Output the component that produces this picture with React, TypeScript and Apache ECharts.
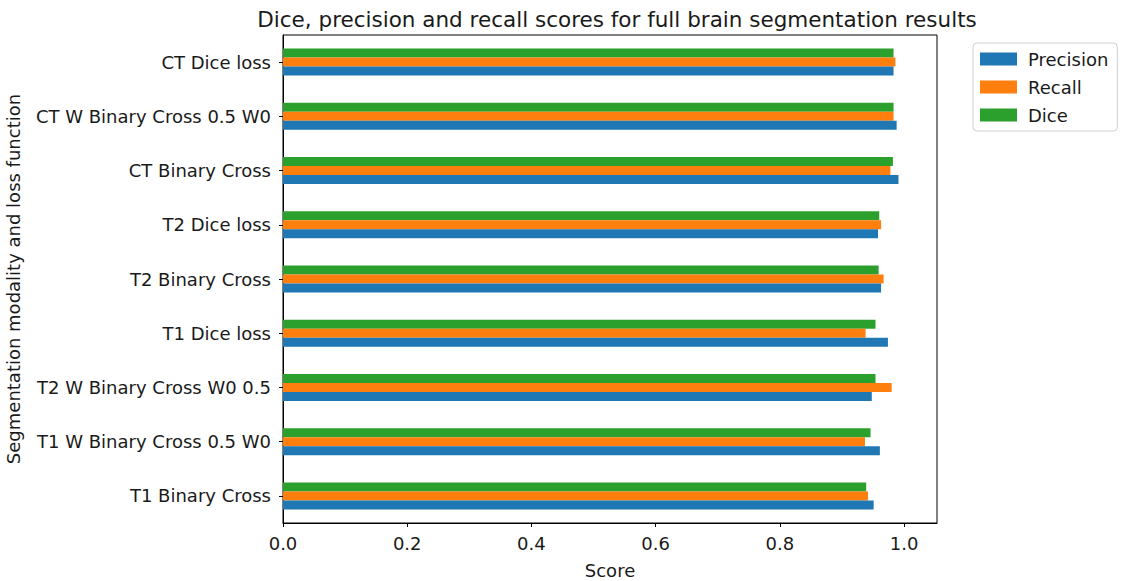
import React, { useEffect, useRef } from "react";
import * as echarts from "echarts";

const categories = [
  "T1 Binary Cross",
  "T1 W Binary Cross 0.5 W0",
  "T2 W Binary Cross W0 0.5",
  "T1 Dice loss",
  "T2 Binary Cross",
  "T2 Dice loss",
  "CT Binary Cross",
  "CT W Binary Cross 0.5 W0",
  "CT Dice loss",
];
const precision = [0.951, 0.961, 0.948, 0.974, 0.963, 0.958, 0.991, 0.988, 0.983];
const recall = [0.942, 0.937, 0.98, 0.938, 0.967, 0.963, 0.978, 0.983, 0.986];
const dice = [0.939, 0.946, 0.954, 0.954, 0.959, 0.96, 0.982, 0.983, 0.983];
const xTicks = [0, 0.2, 0.4, 0.6, 0.8, 1.0];

const FONT = "DejaVu Sans";
const FS = 18;

export default function App() {
  const ref = useRef<HTMLDivElement>(null);
  useEffect(() => {
    document.body.style.margin = "0";
    const chart = echarts.init(ref.current!, null, { renderer: "svg" });
    const barStyle = { barWidth: 9, barGap: "0%" };
    chart.setOption({
      animation: false,
      textStyle: { fontFamily: FONT },
      title: {
        text: "Dice, precision and recall scores for full brain segmentation results",
        left: 612,
        textAlign: "center",
        top: 3,
        textStyle: { fontFamily: FONT, fontSize: 21.5, fontWeight: "normal", color: "#1a1a1a" },
      },
      legend: {
        orient: "vertical",
        left: 973,
        top: 43,
        padding: [7, 9, 7, 7],
        itemGap: 10,
        itemWidth: 37,
        itemHeight: 13,
        borderColor: "#d0d0d0",
        borderWidth: 1,
        borderRadius: 4,
        icon: "rect",
        textStyle: { fontFamily: FONT, fontSize: FS, color: "#1a1a1a", padding: [0, 0, 0, 6] },
        data: ["Precision", "Recall", "Dice"],
      },
      grid: {
        left: 283,
        right: 184,
        top: 35,
        bottom: 58,
        show: true,
        borderColor: "#000",
        borderWidth: 1,
        containLabel: false,
        outerBoundsMode: "none",
      },
      xAxis: {
        type: "value",
        min: 0,
        max: 1.053,
        interval: 0.2,
        name: "Score",
        nameLocation: "middle",
        nameGap: 38,
        nameTextStyle: { fontFamily: FONT, fontSize: FS, color: "#1a1a1a" },
        axisLine: { show: true, lineStyle: { color: "#000" } },
        axisTick: { show: true, length: 4, lineStyle: { color: "#000" } },
        splitLine: { show: false },
        axisLabel: {
          fontFamily: FONT,
          fontSize: FS,
          color: "#1a1a1a",
          margin: 11,
          showMaxLabel: false,
          formatter: (v: number) => (xTicks.some((t) => Math.abs(t - v) < 1e-6) ? v.toFixed(1) : ""),
        },
      },
      yAxis: {
        type: "category",
        data: categories,
        name: "Segmentation modality and loss function",
        nameLocation: "middle",
        nameGap: 261,
        nameTextStyle: { fontFamily: FONT, fontSize: FS, color: "#1a1a1a" },
        axisLine: { show: true, lineStyle: { color: "#000" } },
        axisTick: { show: true, alignWithLabel: true, length: 4, lineStyle: { color: "#000" } },
        axisLabel: { fontFamily: FONT, fontSize: FS, color: "#1a1a1a", margin: 12 },
      },
      series: [
        { name: "Dice", type: "bar", data: dice, itemStyle: { color: "#2ca02c" }, ...barStyle },
        { name: "Recall", type: "bar", data: recall, itemStyle: { color: "#ff7f0e" }, ...barStyle },
        { name: "Precision", type: "bar", data: precision, itemStyle: { color: "#1f77b4" }, ...barStyle },
      ],
    });
    return () => chart.dispose();
  }, []);
  return <div ref={ref} style={{ width: 1121, height: 581 }} />;
}
